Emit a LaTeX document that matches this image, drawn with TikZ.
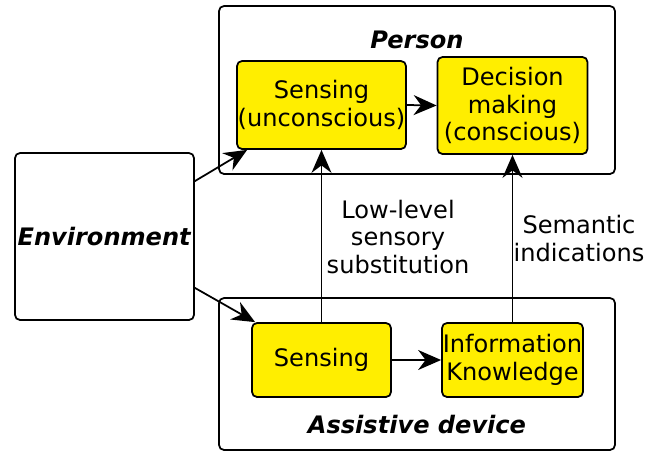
\documentclass[tikz,border=0pt]{standalone}
\usepackage{fontspec}
\setmainfont{DejaVu Sans}
\usetikzlibrary{arrows.meta}
\definecolor{boxyellow}{RGB}{255,238,0}
\tikzset{
  block/.style={draw, line width=1pt, fill=boxyellow, rounded corners=0.1cm, align=center, inner sep=0pt},
  frame/.style={draw, line width=1pt, rounded corners=0.1cm, inner sep=0pt},
  link/.style={line width=1pt, -{Stealth[length=0.46cm, width=0.4cm, inset=0.15cm]}}
}
\begin{document}
\begin{tikzpicture}[font=\fontsize{13.7pt}{15.8pt}\selectfont]
\useasboundingbox (0,0) rectangle (13.12,-9.02);

\node[frame, minimum width=7.92cm, minimum height=3.36cm] (person) at (8.34,-1.8) {};
\node[frame, minimum width=7.92cm, minimum height=3.04cm] (assist) at (8.34,-7.48) {};
\node[frame, minimum width=3.58cm, minimum height=3.34cm] (env) at (2.09,-4.73) {\textbf{\textit{Environment}}};

\node (persontitle) at (8.34,-0.8) {\textbf{\textit{Person}}};
\node (assisttitle) at (8.34,-8.5) {\textbf{\textit{Assistive device}}};

\node[block, minimum width=3.38cm, minimum height=1.76cm] (sensu) at (6.43,-2.1) {Sensing\\(unconscious)};
\node[block, minimum width=3.0cm, minimum height=1.94cm] (decide) at (10.25,-2.11) {Decision\\making\\(conscious)};
\node[block, minimum width=2.78cm, minimum height=1.48cm] (sensa) at (6.43,-7.2) {Sensing};
\node[block, minimum width=2.82cm, minimum height=1.48cm] (info) at (10.25,-7.2) {Information\\Knowledge};

\node[align=center] (lowlevel) at (7.96,-4.74) {Low-level\\sensory\\substitution};
\node[align=center] (semantic) at (11.58,-4.77) {Semantic\\indications};

\draw[link] ([yshift=-0.58cm]env.north east) -- ([xshift=0.22cm]sensu.south west);
\draw[link] ([yshift=0.66cm]env.south east) -- ([xshift=0.08cm]sensa.north west);
\draw[link] (sensu.east) -- (decide.west);
\draw[link] (sensa.east) -- (info.west);
\draw[link] (sensa.north) -- (sensu.south);
\draw[link] (info.north) -- (decide.south);
\end{tikzpicture}
\end{document}
